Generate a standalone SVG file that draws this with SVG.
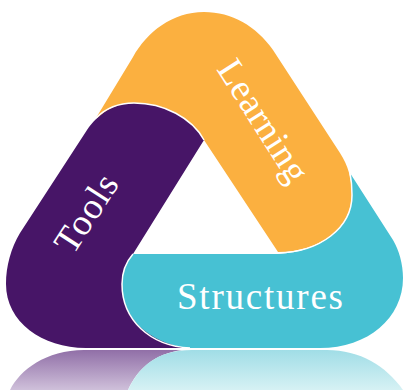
<svg xmlns="http://www.w3.org/2000/svg" width="403" height="390" viewBox="0 0 403 390">
<style>
.t{font-family:"Liberation Serif",serif;font-size:37px;fill:#fff}
.e{stroke:#fff;stroke-width:1.5;fill:none}
</style>
<defs>
<linearGradient id="rp" x1="0" y1="349" x2="0" y2="390" gradientUnits="userSpaceOnUse"><stop offset="0" stop-color="#8f6da6"/><stop offset="1" stop-color="#cfc0da"/></linearGradient>
<linearGradient id="rt" x1="0" y1="349" x2="0" y2="390" gradientUnits="userSpaceOnUse"><stop offset="0" stop-color="#9fdde6"/><stop offset="1" stop-color="#d6f1f4"/></linearGradient>
</defs>
<rect width="403" height="390" fill="#fff"/>
<g id="reflection">
<path d="M10 390C20 370 46 350 84 350H182C155 354 138 368 128 390Z" fill="url(#rp)"/>
<path d="M128 390C138 368 156 350 192 350H327C360 350 386 366 403 390Z" fill="url(#rt)"/>
</g>
<g id="structures">
<path d="M350 173L393 240C399 250 403 264 403 278C403 318 368 348 320 348H190C150 346 122 320 122 284C122 272 126 262 133 254H278C320 252 352 228 352 195C352 186 351 178 350 173Z" fill="#47c1d3"/>
<text class="t" x="177" y="309" textLength="166">Structures</text>
</g>
<g id="learning">
<path d="M96 118L133 57C147 32 172 12 204 12C232 12 256 26 273 50L340 153C348 165 352 180 352 194C352 228 320 252 278 252L204 140L130 103Z" fill="#fbb040"/>
<text class="t" transform="translate(216 69) rotate(57.5)" textLength="138">Learning</text>
</g>
<g id="tools">
<path d="M204 140C192 118 164 103 134 103C114 103 98 114 87 130L20 233C11 248 6 266 6 284C6 322 42 348 86 348H186C150 342 122 320 122 284C122 272 126 262 133 254Z" fill="#471567"/>
<text class="t" transform="translate(73 256) rotate(-57)" textLength="86">Tools</text>
</g>
<g id="connectors">
<path class="e" d="M96 118C106 108 118 103 134 103C164 103 192 118 204 140"/>
<path class="e" d="M350 173C351 178 352 186 352 195C352 228 320 252 278 253"/>
<path class="e" d="M133 254C126 262 122 272 122 284C122 320 150 346 190 348"/>
</g>
</svg>
